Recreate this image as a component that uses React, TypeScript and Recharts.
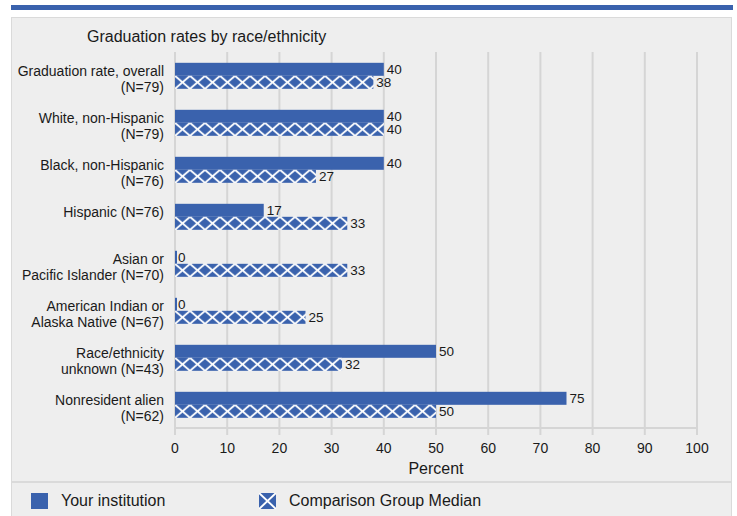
import { Bar, BarChart, CartesianGrid, LabelList, XAxis, YAxis } from 'recharts'

const BLUE = '#3a62ad'
const GRID = '#d5d5d5'
const FONT = '"Liberation Sans", Arial, sans-serif'

const categories = [
  'Graduation rate, overall\n(N=79)',
  'White, non-Hispanic\n(N=79)',
  'Black, non-Hispanic\n(N=76)',
  'Hispanic (N=76)',
  'Asian or\nPacific Islander (N=70)',
  'American Indian or\nAlaska Native (N=67)',
  'Race/ethnicity\nunknown (N=43)',
  'Nonresident alien\n(N=62)',
]
const yourInstitution = [40, 40, 40, 17, 0, 0, 50, 75]
const comparisonMedian = [38, 40, 27, 33, 33, 25, 32, 50]
const percentTicks = [0, 10, 20, 30, 40, 50, 60, 70, 80, 90, 100]

const data = categories.map((name, i) => ({
  name,
  yours: yourInstitution[i],
  median: comparisonMedian[i],
}))

function CategoryTick(props: any) {
  const { x, y, payload } = props
  const lines = String(payload.value).split('\n')
  return (
    <text x={x} y={y} textAnchor="end" fontSize={14} fill="#1a1a1a" fontFamily={FONT}>
      {lines.map((l, i) => (
        <tspan key={i} x={x} dy={i === 0 ? 0 : 16.5}>
          {l}
        </tspan>
      ))}
    </text>
  )
}

function SolidBar(props: any) {
  const { x, y, width, height } = props
  // zero values still show a thin sliver at the axis
  const w = Math.max(width || 0, 2)
  return <rect x={x} y={y} width={w} height={height} fill={BLUE} />
}

function HatchedBar(props: any) {
  const { x, y, width, height, index } = props
  if (!width || width <= 0) return null
  const id = `hatch-${index}`
  const step = 15
  return (
    <g>
      <defs>
        <pattern id={id} x={x} y={y} width={step} height={height} patternUnits="userSpaceOnUse">
          <rect width={step} height={height} fill={BLUE} />
          <path
            d={`M0 0 L${step} ${height} M${step} 0 L0 ${height}`}
            stroke="#fff"
            strokeWidth={1.8}
          />
        </pattern>
      </defs>
      <rect x={x} y={y} width={width} height={height} fill={`url(#${id})`} />
    </g>
  )
}

// value labels sit just right of the bar end, centred on the bar
function ValueLabel(props: any) {
  const { x, y, width, height, value } = props
  return (
    <text
      x={x + Math.max(width, 0) + 3}
      y={y + height / 2 + 5}
      fontSize={13.5}
      fill="#1a1a1a"
      fontFamily={FONT}
    >
      {value}
    </text>
  )
}

export default function App() {
  return (
    <div
      style={{
        position: 'fixed',
        left: 0,
        top: 0,
        width: 737,
        height: 516,
        background: '#fff',
        fontFamily: FONT,
        color: '#1a1a1a',
      }}
    >
      <div style={{ position: 'absolute', left: 11, top: 5, width: 722, height: 5, background: BLUE }} />
      <div
        style={{
          position: 'absolute',
          left: 11,
          top: 17,
          width: 719,
          height: 499,
          background: '#eeeeee',
          border: '1px solid #dadada',
          borderBottom: 'none',
        }}
      />
      <div style={{ position: 'absolute', left: 87, top: 28, fontSize: 16, whiteSpace: 'nowrap' }}>
        Graduation rates by race/ethnicity
      </div>

      <div style={{ position: 'absolute', left: 0, top: 0 }}>
        <BarChart
          width={737}
          height={482}
          data={data}
          layout="vertical"
          margin={{ top: 52, right: 40, bottom: 0, left: 10 }}
          barGap={0}
          barCategoryGap="23%"
        >
          <CartesianGrid horizontal={false} stroke={GRID} strokeWidth={2} />
          <XAxis
            type="number"
            domain={[0, 100]}
            ticks={percentTicks}
            interval={0}
            height={54}
            tickSize={7}
            tickMargin={8}
            axisLine={{ stroke: GRID, strokeWidth: 2 }}
            tickLine={{ stroke: GRID, strokeWidth: 2 }}
            tick={{ fontSize: 14, fill: '#1a1a1a', fontFamily: FONT }}
            label={{
              value: 'Percent',
              position: 'insideBottom',
              offset: 8,
              fontSize: 16,
              fill: '#1a1a1a',
              fontFamily: FONT,
            }}
          />
          <XAxis
            xAxisId="top"
            orientation="top"
            type="number"
            domain={[0, 100]}
            height={0}
            tick={false}
            tickLine={false}
            axisLine={{ stroke: GRID, strokeWidth: 2 }}
          />
          <YAxis
            type="category"
            dataKey="name"
            width={165}
            tickSize={0}
            tickMargin={11}
            axisLine={false}
            tickLine={false}
            interval={0}
            tick={<CategoryTick />}
          />
          <Bar dataKey="yours" fill={BLUE} shape={<SolidBar />} isAnimationActive={false}>
            <LabelList dataKey="yours" content={<ValueLabel />} />
          </Bar>
          <Bar dataKey="median" fill={BLUE} shape={<HatchedBar />} isAnimationActive={false}>
            <LabelList dataKey="median" content={<ValueLabel />} />
          </Bar>
        </BarChart>
      </div>

      <div
        style={{
          position: 'absolute',
          left: 11,
          top: 481,
          width: 719,
          height: 35,
          borderTop: '2px solid #dadada',
          borderLeft: '1px solid #dadada',
          borderRight: '1px solid #dadada',
          background: '#eeeeee',
        }}
      />
      <div style={{ position: 'absolute', left: 31, top: 493, width: 17, height: 16, background: BLUE }} />
      <div style={{ position: 'absolute', left: 61, top: 491, fontSize: 16, lineHeight: '20px' }}>
        Your institution
      </div>
      <svg style={{ position: 'absolute', left: 259, top: 493 }} width={17} height={16}>
        <rect width={17} height={16} fill={BLUE} />
        <path d="M0 0 L17 16 M17 0 L0 16" stroke="#fff" strokeWidth={2} />
      </svg>
      <div style={{ position: 'absolute', left: 289, top: 491, fontSize: 16, lineHeight: '20px' }}>
        Comparison Group Median
      </div>
    </div>
  )
}
